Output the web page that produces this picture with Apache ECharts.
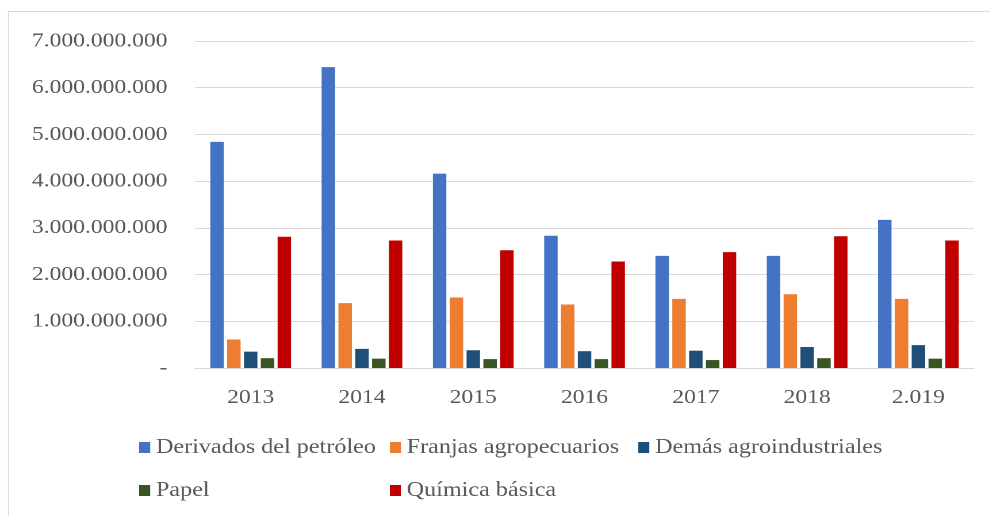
<!DOCTYPE html>
<html>
<head>
<meta charset="utf-8">
<script src="https://cdn.jsdelivr.net/npm/echarts@6/dist/echarts.min.js"></script>
<style>
  html, body { margin: 0; padding: 0; background: #fff; overflow: hidden; }
  /* el grafico original esta estirado en horizontal */
  #chart { width: 861px; height: 516px; transform: scaleX(1.15); transform-origin: 0 0; }
</style>
</head>
<body>
<div id="chart"></div>
<script>
// datos
const years = ['2013', '2014', '2015', '2016', '2017', '2018', '2.019'];
const seriesNames = ['Derivados del petróleo', 'Franjas agropecuarios', 'Demás agroindustriales', 'Papel', 'Química básica'];
const derivados = [4840000000, 6440000000, 4160000000, 2830000000, 2400000000, 2400000000, 3170000000];
const franjas = [610000000, 1390000000, 1510000000, 1360000000, 1480000000, 1580000000, 1480000000];
const demas = [350000000, 410000000, 380000000, 360000000, 370000000, 450000000, 490000000];
const papel = [210000000, 200000000, 190000000, 190000000, 170000000, 210000000, 200000000];
const quimica = [2810000000, 2730000000, 2520000000, 2280000000, 2480000000, 2820000000, 2730000000];
const yTicks = [0, 1000000000, 2000000000, 3000000000, 4000000000, 5000000000, 6000000000, 7000000000];

const colors = ['#4472C4', '#ED7D31', '#1F4E79', '#375623', '#C00000'];
const values = [derivados, franjas, demas, papel, quimica];
const fontFamily = '"Liberation Serif", "Times New Roman", serif';

// canvas a 2x para que el estirado no quede borroso
const chart = echarts.init(document.getElementById('chart'), null, { devicePixelRatio: 2 });

// una leyenda por elemento para respetar las columnas de Excel
const legendPos = [
    { left: 121, top: 437 },
    { left: 339, top: 437 },
    { left: 555, top: 437 },
    { left: 121, top: 480 },
    { left: 339, top: 480 }
];

const option = {
    animation: false,
    color: colors,
    graphic: [{
        type: 'rect',
        shape: { x: 7.4, y: 11.5, width: 1200, height: 800 },
        style: { fill: 'none', stroke: '#d9d9d9', lineWidth: 1 },
        silent: true
    }],
    grid: { left: 169.6, right: 14, top: 41, bottom: 148 },
    legend: legendPos.map((p, i) => ({
        data: [seriesNames[i]],
        left: p.left,
        top: p.top,
        padding: 0,
        itemWidth: 9.6,
        itemHeight: 11,
        icon: 'rect',
        textStyle: { fontFamily: fontFamily, fontSize: 21, color: '#595959' }
    })),
    xAxis: {
        type: 'category',
        data: years,
        axisLine: { lineStyle: { color: '#d9d9d9', width: 1 } },
        axisTick: { show: false },
        axisLabel: { fontFamily: fontFamily, fontSize: 20.5, color: '#595959', margin: 19 }
    },
    yAxis: {
        type: 'value',
        min: yTicks[0],
        max: yTicks[yTicks.length - 1],
        interval: 1000000000,
        axisLine: { show: false },
        axisTick: { show: false },
        splitLine: { lineStyle: { color: '#d9d9d9', width: 1 } },
        axisLabel: {
            fontFamily: fontFamily,
            fontSize: 20.5,
            color: '#595959',
            margin: 24,
            formatter: function (v) {
                if (v === 0) return '-';
                return String(v).replace(/\B(?=(\d{3})+(?!\d))/g, '.');
            }
        }
    },
    series: seriesNames.map((name, i) => ({
        name: name,
        type: 'bar',
        data: values[i],
        barWidth: 11.7,
        barGap: '25%',
        itemStyle: { color: colors[i] }
    }))
};

chart.setOption(option);
</script>
</body>
</html>
